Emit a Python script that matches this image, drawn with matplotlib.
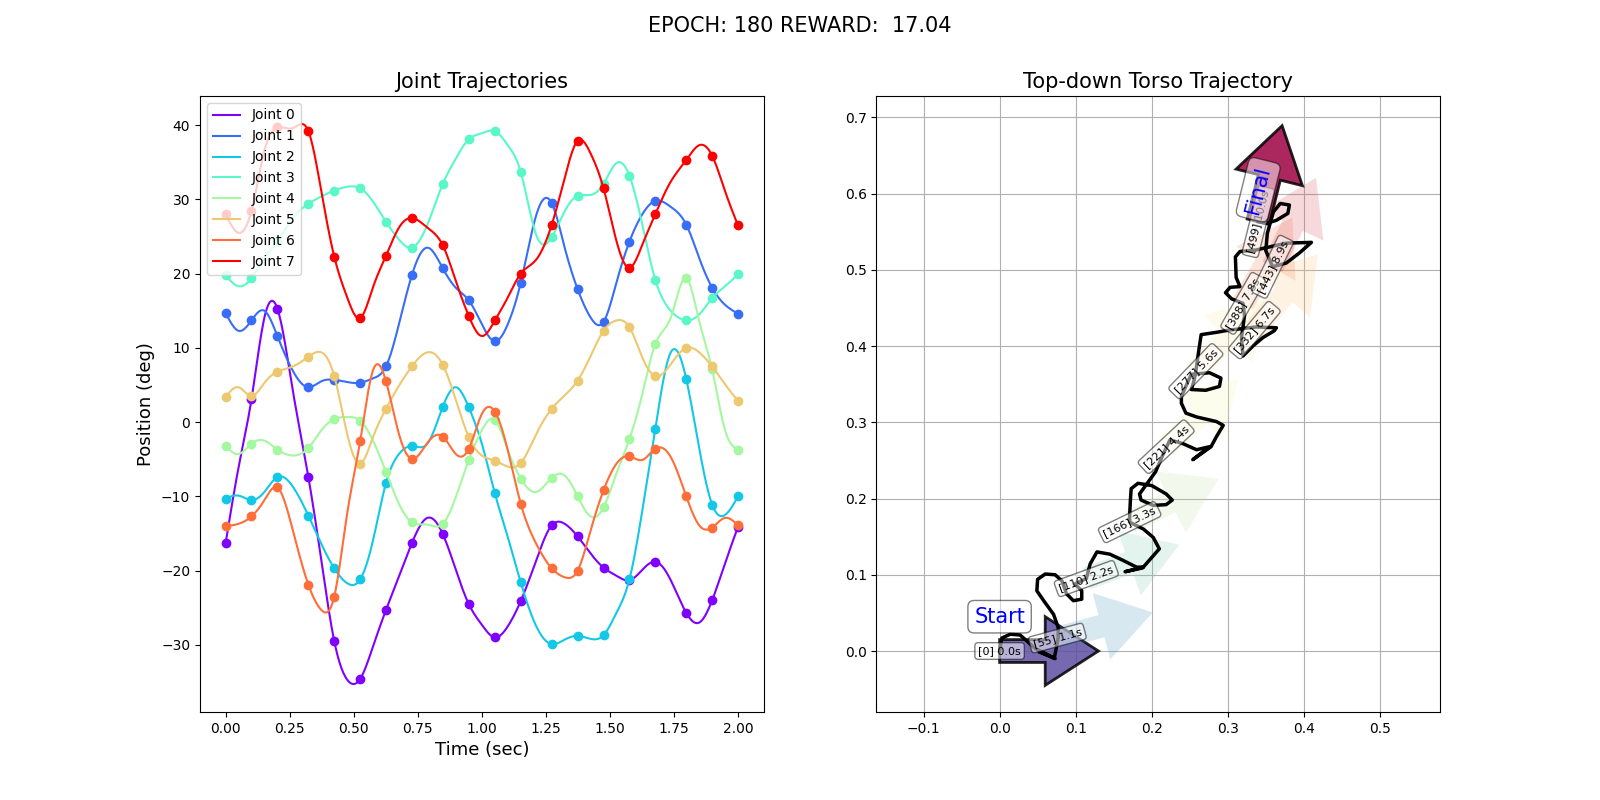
import numpy as np
import matplotlib
matplotlib.use('Agg')
import matplotlib.pyplot as plt

# ---------------- data: joint trajectories ----------------
# sample times of the marked points (sec)
t_dots = [0.000, 0.101, 0.202, 0.323, 0.424, 0.525, 0.626, 0.727, 0.848, 0.949,
          1.051, 1.152, 1.273, 1.374, 1.475, 1.576, 1.677, 1.798, 1.899, 2.000]
# marked points
joint_0 = [-16.3, 3.1, 15.3, -7.4, -29.5, -34.6, -25.3, -16.3, -15.1, -24.5,
           -29.0, -24.1, -13.9, -15.4, -19.6, -21.3, -18.8, -25.7, -24.0, -14.1]
joint_1 = [14.7, 13.7, 11.6, 4.7, 5.7, 5.3, 7.5, 19.8, 20.7, 16.4,
           10.9, 18.8, 29.5, 17.9, 13.5, 24.3, 29.8, 26.6, 18.1, 14.6]
joint_2 = [-10.3, -10.5, -7.4, -12.6, -19.7, -21.2, -8.2, -3.2, 2.1, 2.0,
           -9.6, -21.6, -29.9, -28.8, -28.7, -21.2, -0.9, 5.8, -11.1, -10.0]
joint_3 = [19.8, 19.4, 24.4, 29.4, 31.2, 31.5, 27.0, 23.5, 32.1, 38.1,
           39.2, 33.7, 24.9, 30.5, 32.1, 33.2, 19.2, 13.7, 16.7, 19.9]
joint_4 = [-3.2, -2.9, -3.7, -3.5, 0.4, 0.2, -6.7, -13.5, -13.7, -5.1,
           0.3, -7.6, -7.5, -10.0, -11.5, -2.3, 10.5, 19.4, 7.1, -3.7]
joint_5 = [3.4, 3.5, 6.8, 8.8, 6.2, -5.6, 1.8, 7.5, 7.7, -2.0,
           -5.2, -5.5, 1.8, 5.6, 12.3, 12.8, 6.2, 10.0, 7.5, 2.8]
joint_6 = [-14.0, -12.7, -8.8, -21.9, -23.5, -2.6, 5.5, -4.95, -1.95, -3.6,
           1.4, -11.0, -19.7, -20.0, -9.2, -4.6, -3.6, -10.0, -14.2, -13.9]
joint_7 = [28.0, 28.5, 39.7, 39.2, 22.3, 14.0, 22.4, 27.5, 23.8, 14.3,
           13.7, 20.0, 26.6, 37.9, 31.5, 20.8, 28.0, 35.3, 35.9, 26.5]
# curve values read half-way between consecutive marked points
joint_0_mid = [-6.1, 14.1, 4.2, -18.6, -34.7, -30.2, -20.8, -12.9, -19.9, -27.3,
               -27.5, -18.6, -13.7, -17.7, -20.7, -19.9, -21.3, -27.0, -19.0]
joint_1_mid = [12.3, 15.0, 6.9, 5.5, 5.4, 5.9, 13.2, 23.5, 18.1, 13.2,
               13.2, 27.9, 23.5, 14.1, 18.8, 28.0, 29.0, 22.1, 15.8]
joint_2_mid = [-9.9, -9.4, -8.7, -16.4, -21.7, -15.9, -4.3, -2.9, 4.7, -2.9,
               -15.5, -27.5, -29.3, -29.2, -25.7, -11.9, 9.4, -3.5, -12.5]
joint_3_mid = [18.3, 22.1, 27.5, 30.4, 31.7, 29.7, 24.6, 26.6, 35.5, 38.9,
               37.3, 25.2, 28.4, 30.6, 34.9, 26.6, 15.0, 14.5, 18.3]
joint_4_mid = [-4.3, -2.5, -4.5, -1.1, 0.7, -2.5, -11.0, -13.8, -10.1, -1.1,
               -3.8, -9.4, -7.2, -12.7, -6.9, 3.8, 14.1, 13.6, -1.1]
joint_5_mid = [4.7, 5.3, 7.5, 9.4, -1.6, -2.0, 4.9, 9.4, 3.0, -4.5,
               -6.0, -1.6, 3.6, 8.9, 13.7, 8.7, 7.8, 9.4, 5.1]
joint_6_mid = [-13.7, -10.5, -14.6, -25.3, -12.3, 7.0, -1.6, -2.8, -4.3, 1.1,
               -3.8, -16.4, -20.9, -14.6, -5.6, -5.1, -4.7, -13.9, -12.9]
joint_7_mid = [25.5, 36.6, 39.6, 31.1, 16.8, 18.2, 26.2, 26.2, 19.0, 11.6,
               16.8, 21.9, 32.9, 36.2, 24.4, 23.9, 32.4, 37.3, 31.1]

joints = [joint_0, joint_1, joint_2, joint_3, joint_4, joint_5, joint_6, joint_7]
joints_mid = [joint_0_mid, joint_1_mid, joint_2_mid, joint_3_mid,
              joint_4_mid, joint_5_mid, joint_6_mid, joint_7_mid]
joint_labels = [f'Joint {i}' for i in range(8)]

# ---------------- data: torso trajectory ----------------
traj_x = [0.000, 0.003, 0.014, 0.027, 0.036, 0.047, 0.058, 0.073, 0.052, 0.072,
          0.077, 0.077, 0.071, 0.058, 0.049, 0.050, 0.060, 0.073, 0.082, 0.088,
          0.097, 0.108, 0.108, 0.099, 0.114, 0.119, 0.128, 0.145, 0.162, 0.180,
          0.189, 0.165, 0.188, 0.210, 0.202, 0.189, 0.171, 0.171, 0.172, 0.173,
          0.182, 0.200, 0.219, 0.227, 0.219, 0.202, 0.186, 0.184, 0.205, 0.215,
          0.224, 0.241, 0.259, 0.276, 0.254, 0.278, 0.285, 0.294, 0.285, 0.259,
          0.245, 0.239, 0.239, 0.243, 0.252, 0.276, 0.291, 0.289, 0.271, 0.252,
          0.256, 0.258, 0.262, 0.265, 0.285, 0.302, 0.320, 0.337, 0.364, 0.361,
          0.346, 0.333, 0.320, 0.318, 0.322, 0.320, 0.305, 0.297, 0.303, 0.316,
          0.311, 0.310, 0.316, 0.337, 0.359, 0.377, 0.410, 0.394, 0.377, 0.359,
          0.350, 0.352, 0.360, 0.369, 0.381, 0.379, 0.364, 0.351, 0.340]
traj_y = [0.000, 0.017, 0.022, 0.021, 0.013, 0.003, -0.002, -0.010, -0.001, -0.009,
          0.017, 0.031, 0.048, 0.066, 0.079, 0.094, 0.101, 0.100, 0.092, 0.075,
          0.066, 0.068, 0.079, 0.088, 0.095, 0.114, 0.130, 0.127, 0.119, 0.110,
          0.110, 0.104, 0.109, 0.134, 0.149, 0.160, 0.169, 0.178, 0.198, 0.213,
          0.220, 0.217, 0.206, 0.198, 0.192, 0.191, 0.198, 0.206, 0.235, 0.258,
          0.277, 0.272, 0.264, 0.268, 0.251, 0.268, 0.281, 0.296, 0.301, 0.307,
          0.312, 0.325, 0.334, 0.343, 0.363, 0.365, 0.358, 0.347, 0.342, 0.343,
          0.356, 0.367, 0.395, 0.415, 0.418, 0.421, 0.423, 0.425, 0.424, 0.420,
          0.411, 0.400, 0.387, 0.410, 0.440, 0.456, 0.462, 0.470, 0.477, 0.478,
          0.490, 0.517, 0.524, 0.526, 0.531, 0.535, 0.536, 0.522, 0.509, 0.504,
          0.525, 0.548, 0.576, 0.587, 0.585, 0.574, 0.565, 0.561, 0.563]

mark_idx = [0, 55, 110, 166, 221, 277, 332, 388, 443, 499]
mark_time = [0.0, 1.1, 2.2, 3.3, 4.4, 5.6, 6.7, 7.8, 8.9, 10.0]
mark_x = [0.000, 0.076, 0.114, 0.171, 0.219, 0.258, 0.335, 0.320, 0.359, 0.340]
mark_y = [0.000, 0.017, 0.095, 0.169, 0.268, 0.367, 0.421, 0.456, 0.504, 0.563]
mark_heading = [0, 15, 20, 26, 43, 46, 50, 60, 64, 76]

epoch = 180
reward = 17.04


def smooth_line(x, y, xf):
    """Natural cubic spline through the read curve samples (for drawing)."""
    x = np.asarray(x, float)
    y = np.asarray(y, float)
    n = len(x)
    h = np.diff(x)
    A = np.zeros((n, n))
    b = np.zeros(n)
    A[0, 0] = A[-1, -1] = 1
    for i in range(1, n - 1):
        A[i, i - 1] = h[i - 1]
        A[i, i] = 2 * (h[i - 1] + h[i])
        A[i, i + 1] = h[i]
        b[i] = 6 * ((y[i + 1] - y[i]) / h[i] - (y[i] - y[i - 1]) / h[i - 1])
    M = np.linalg.solve(A, b)
    idx = np.clip(np.searchsorted(x, xf) - 1, 0, n - 2)
    hi = h[idx]
    a = (x[idx + 1] - xf) / hi
    bb = 1 - a
    return (a * y[idx] + bb * y[idx + 1]
            + ((a ** 3 - a) * M[idx] + (bb ** 3 - bb) * M[idx + 1]) * hi ** 2 / 6)


fig, (ax1, ax2) = plt.subplots(1, 2, figsize=(16, 8), dpi=100)

colors = plt.cm.rainbow(np.linspace(0, 1, len(joints)))
td = np.asarray(t_dots)
t_all = np.empty(2 * len(td) - 1)
t_all[0::2] = td
t_all[1::2] = (td[:-1] + td[1:]) / 2
t_fine = np.linspace(0, 2, 500)
for vals, mids, c, lab in zip(joints, joints_mid, colors, joint_labels):
    v_all = np.empty(2 * len(vals) - 1)
    v_all[0::2] = vals
    v_all[1::2] = mids
    ax1.plot(t_fine, smooth_line(t_all, v_all, t_fine), color=c, label=lab)
    ax1.plot(t_dots, vals, 'o', color=c)
ax1.legend(loc='upper left')
ax1.set_title('Joint Trajectories', fontsize=15)
ax1.set_xlabel('Time (sec)', fontsize=13)
ax1.set_ylabel('Position (deg)', fontsize=13)

# torso panel
cmap = plt.cm.Spectral_r
n_m = len(mark_idx)
for k in range(n_m):
    th = np.deg2rad(mark_heading[k])
    col = cmap(k / (n_m - 1))
    end = (k == 0 or k == n_m - 1)
    ax2.arrow(mark_x[k], mark_y[k], 0.06 * np.cos(th), 0.06 * np.sin(th),
              width=0.03, head_width=0.09, head_length=0.07,
              facecolor=col, edgecolor='black' if end else 'none',
              linewidth=2 if end else 0, alpha=0.85 if end else 0.2, zorder=2)
ax2.plot(traj_x, traj_y, color='black', linewidth=2.5, zorder=3)
for k in range(n_m):
    ax2.text(mark_x[k], mark_y[k], f'[{mark_idx[k]}] {mark_time[k]:.1f}s',
             rotation=mark_heading[k], rotation_mode='anchor',
             ha='center', va='center', fontsize=8, zorder=4,
             bbox=dict(boxstyle='round', facecolor='white', alpha=0.5))
ax2.text(mark_x[0], mark_y[0] + 0.045, 'Start', color='blue', fontsize=15,
         ha='center', va='center', zorder=5,
         bbox=dict(boxstyle='round', facecolor='white', alpha=0.5))
ax2.text(mark_x[-1], mark_y[-1] + 0.042, 'Final', color='blue', fontsize=15,
         rotation=mark_heading[-1], rotation_mode='anchor',
         ha='center', va='center', zorder=5,
         bbox=dict(boxstyle='round', facecolor='white', alpha=0.5))
ax2.set_xlim(-0.162, 0.579)
ax2.set_ylim(-0.080, 0.728)
ax2.grid(True)
ax2.set_title('Top-down Torso Trajectory', fontsize=15)

fig.suptitle(f'EPOCH: {epoch} REWARD:  {reward:.2f}', fontsize=15)
fig.savefig('out.png', dpi=100)
